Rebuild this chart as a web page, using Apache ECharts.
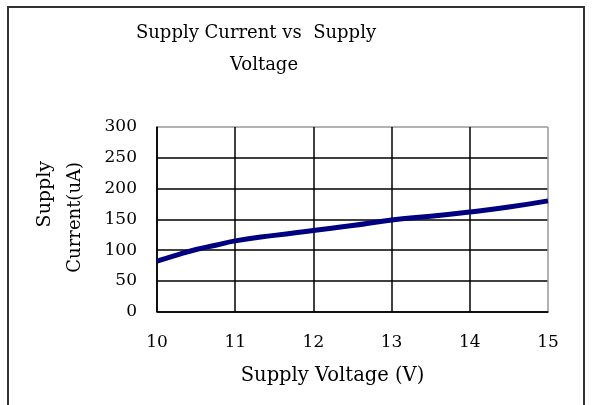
<!DOCTYPE html>
<html>
<head>
<meta charset="utf-8">
<script src="https://cdn.jsdelivr.net/npm/echarts@6/dist/echarts.min.js"></script>
<style>html,body{margin:0;padding:0;background:#fff}#c{width:593px;height:405px}</style>
</head>
<body>
<div id="c"></div>
<script>
const voltage = [10, 10.25, 10.5, 10.75, 11, 11.5, 12, 12.5, 13, 13.5, 14, 14.5, 15];
const current = [82, 92, 101, 108, 115, 124, 132, 140, 149, 155, 162, 170, 180];
const xTicks = [10, 11, 12, 13, 14, 15];
const yTicks = [0, 50, 100, 150, 200, 250, 300];
const titleLines = ['Supply Current vs  Supply', 'Voltage'];
const xName = 'Supply Voltage (V)';
const yNameLines = ['Supply', 'Current(uA)'];

const FONT = 'DejaVu Serif';
const txt = {fontFamily: FONT, fontSize: 18, fontWeight: 'normal', color: '#000'};
const chart = echarts.init(document.getElementById('c'), null, {renderer: 'canvas'});
chart.setOption({
  animation: false,
  backgroundColor: '#fff',
  title: [
    {text: titleLines[0], left: 251, top: 19, textAlign: 'center', textStyle: txt},
    {text: titleLines[1], left: 259, top: 51, textAlign: 'center', textStyle: txt}
  ],
  graphic: [{
    type: 'rect', shape: {x: 8, y: 7, width: 576, height: 420},
    style: {fill: 'none', stroke: '#333', lineWidth: 2}, silent: true
  }, {
    type: 'text', x: 45, y: 161, rotation: Math.PI / 2,
    style: {text: yNameLines[0], font: '19px "DejaVu Serif"', fill: '#000', align: 'right', verticalAlign: 'middle'}
  }, {
    type: 'text', x: 75, y: 162, rotation: Math.PI / 2,
    style: {text: yNameLines[1], font: '18px "DejaVu Serif"', fill: '#000', align: 'right', verticalAlign: 'middle'}
  }],
  grid: {left: 157, right: 45, top: 127, bottom: 93.3, containLabel: false},
  xAxis: {
    type: 'value', min: xTicks[0], max: xTicks[xTicks.length - 1], interval: 1,
    name: xName, nameLocation: 'middle', nameGap: 54,
    nameTextStyle: Object.assign({}, txt, {fontSize: 19.5, padding: [0, 40, 0, 0]}),
    axisLine: {lineStyle: {color: '#000', width: 1.5}},
    axisTick: {show: false},
    axisLabel: {fontFamily: FONT, fontSize: 17, color: '#000', margin: 22},
    splitLine: {show: true, lineStyle: {color: ['#000', '#000', '#000', '#000', '#000', '#999'], width: 1.5}}
  },
  yAxis: {
    type: 'value', min: yTicks[0], max: yTicks[yTicks.length - 1], interval: 50,
    axisLine: {show: true, lineStyle: {color: '#000', width: 1.5}},
    axisTick: {show: false},
    axisLabel: {fontFamily: FONT, fontSize: 17, color: '#000', margin: 20},
    splitLine: {show: true, lineStyle: {color: ['#000', '#000', '#000', '#000', '#000', '#000', '#999'], width: 1.5}}
  },
  series: [{
    type: 'line', data: voltage.map((v, i) => [v, current[i]]),
    smooth: true, showSymbol: false,
    lineStyle: {color: '#000080', width: 5}, z: 5
  }]
});
</script>
</body>
</html>
